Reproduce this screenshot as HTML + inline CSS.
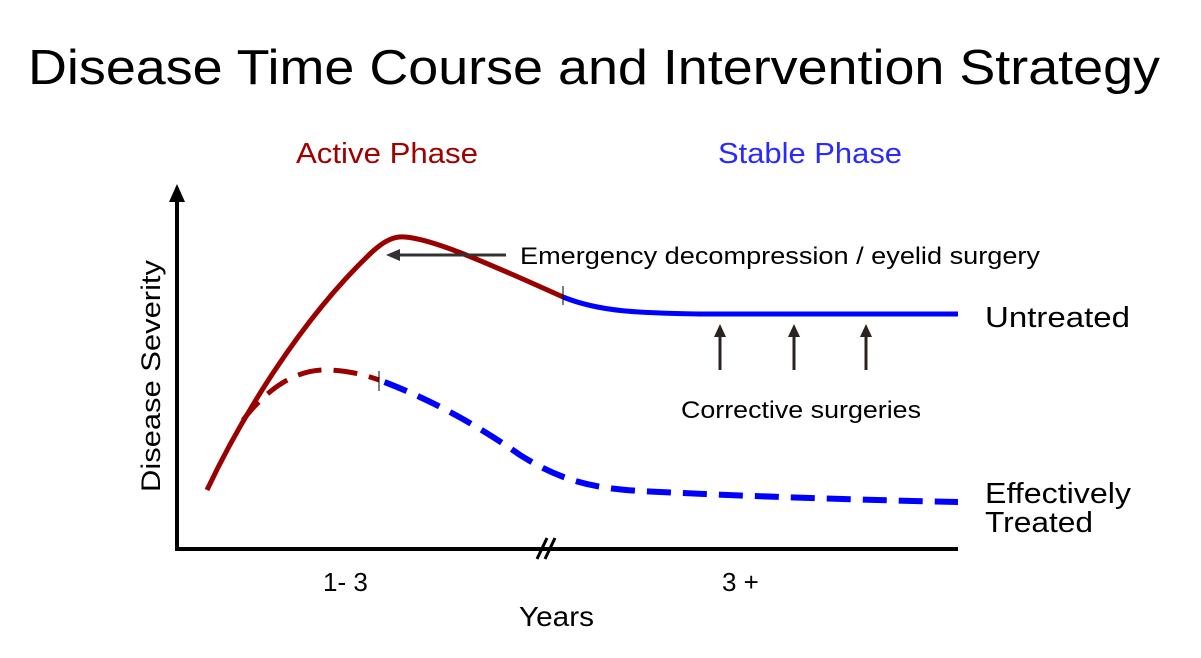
<!DOCTYPE html>
<html><head><meta charset="utf-8"><style>
html,body{margin:0;padding:0;background:#fff;}
svg{display:block;font-family:"Liberation Sans","DejaVu Sans",sans-serif;}
</style></head><body>
<svg width="1201" height="658" viewBox="0 0 1201 658" xmlns="http://www.w3.org/2000/svg">
<text x="28" y="84" font-size="49" textLength="1132" lengthAdjust="spacingAndGlyphs" fill="#000">Disease Time Course and Intervention Strategy</text>
<text x="296" y="163" font-size="29" fill="#a00000" textLength="182" lengthAdjust="spacingAndGlyphs">Active Phase</text>
<text x="718" y="163" font-size="29" fill="#2a2aff" textLength="184" lengthAdjust="spacingAndGlyphs">Stable Phase</text>
<line x1="177" y1="198" x2="177" y2="551" stroke="#000" stroke-width="4"/>
<polygon points="177,184 169,202 185,202" fill="#000"/>
<line x1="175" y1="549" x2="958" y2="549" stroke="#000" stroke-width="4"/>
<line x1="537" y1="559" x2="547" y2="538" stroke="#000" stroke-width="3"/>
<line x1="545" y1="559" x2="555" y2="538" stroke="#000" stroke-width="3"/>
<text transform="translate(160,492) rotate(-90)" font-size="27" textLength="232" lengthAdjust="spacingAndGlyphs">Disease Severity</text>
<text x="323" y="591" font-size="26">1- 3</text>
<text x="722" y="591" font-size="26">3 +</text>
<text x="519" y="626" font-size="28" textLength="75" lengthAdjust="spacingAndGlyphs">Years</text>
<path d="M207,490 C240,420 300,320 372,252 C385,240 395,236 405,237 C430,239 470,255 563,297" fill="none" stroke="#990000" stroke-width="5"/>
<path d="M563,297 C600,312 640,313 700,314 L958,314" fill="none" stroke="#0000ff" stroke-width="5"/>
<line x1="563" y1="286" x2="563" y2="305" stroke="#000" stroke-width="1"/>
<path d="M243,420 C270,385 300,368 330,370 C350,371 365,375 379,380" fill="none" stroke="#990000" stroke-width="5" stroke-dasharray="24,12"/>
<path d="M379,380 C420,395 470,420 520,455 C560,480 590,488 640,491 C720,495 820,499 958,502" fill="none" stroke="#0000ff" stroke-width="6" stroke-dasharray="24,12" stroke-dashoffset="-6"/>
<line x1="379" y1="371" x2="379" y2="391" stroke="#000" stroke-width="1"/>
<line x1="506" y1="255" x2="398" y2="255" stroke="#333" stroke-width="3"/>
<polygon points="386,255 400,249 400,261" fill="#333"/>
<text x="520" y="264" font-size="24" textLength="520" lengthAdjust="spacingAndGlyphs">Emergency decompression / eyelid surgery</text>
<g stroke="#2a2320" stroke-width="3" fill="#2a2320">
<line x1="720" y1="370" x2="720" y2="334"/><polygon points="720,324 714,337 726,337" stroke="none"/>
<line x1="794" y1="370" x2="794" y2="334"/><polygon points="794,324 788,337 800,337" stroke="none"/>
<line x1="866" y1="370" x2="866" y2="334"/><polygon points="866,324 860,337 872,337" stroke="none"/>
</g>
<text x="681" y="418" font-size="24" textLength="240" lengthAdjust="spacingAndGlyphs">Corrective surgeries</text>
<text x="985" y="327" font-size="29" textLength="145" lengthAdjust="spacingAndGlyphs">Untreated</text>
<text x="985" y="503" font-size="29" textLength="146" lengthAdjust="spacingAndGlyphs">Effectively</text>
<text x="985" y="532" font-size="29" textLength="108" lengthAdjust="spacingAndGlyphs">Treated</text>
</svg>
</body></html>
